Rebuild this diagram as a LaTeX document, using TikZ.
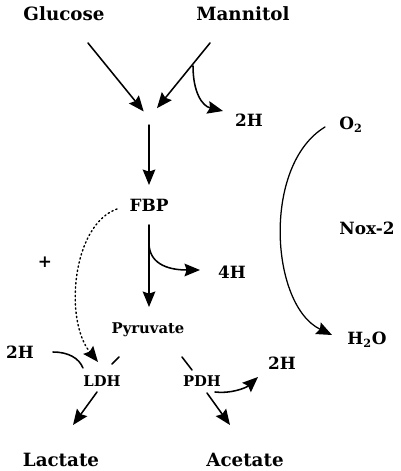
\documentclass[tikz,border=0pt]{standalone}
\usepackage{fontspec}
\setmainfont{DejaVu Serif}
\usetikzlibrary{arrows.meta}
\begin{document}
\begin{tikzpicture}[x=0.025cm, y=-0.025cm, line cap=round, line join=round, line width=1.1pt, >={Stealth[length=11pt, width=9pt, inset=1.5pt]}]
	\tikzset{big/.style={font=\fontsize{13}{15}\selectfont\bfseries, inner sep=1pt},
		mid/.style={font=\fontsize{12}{14}\selectfont\bfseries, inner sep=1pt},
		small/.style={font=\fontsize{10.5}{12}\selectfont\bfseries, inner sep=1pt}}
	\useasboundingbox (0,0) rectangle (400,471);
	\node[big] (glc) at (64,14) {Glucose};
	\node[big] (mtl) at (243,14) {Mannitol};
	\node[mid] (fbp) at (149,205) {FBP};
	\node[small] (pyr) at (148,330) {Pyruvate};
	\node[small] (ldh) at (102,381) {LDH};
	\node[small] (pdh) at (202,381) {PDH};
	\node[big] (lac) at (61,460) {Lactate};
	\node[big] (ace) at (245,460) {Acetate};
	\node[mid] (hmtl) at (249,120) {2H};
	\node[mid] (hfbp) at (232,272) {4H};
	\node[mid] (hldh) at (20,352) {2H};
	\node[mid] (hpdh) at (282,363) {2H};
	\node[mid] (o2) at (351,125) {O\textsubscript{2}};
	\node[mid] (h2o) at (367,340) {H\textsubscript{2}O};
	\node[mid] (nox) at (367,228) {Nox-2};
	\node[mid] (plus) at (45,262) {+};
	% free ends of the connectors
	\coordinate (hub) at (149,118);
	\coordinate (glcout) at (88,43);
	\coordinate (mtlout) at (210,43);
	\coordinate (mtlbr) at (193,66);
	\coordinate (mtlh) at (223,111);
	\coordinate (fbpout) at (149,225);
	\coordinate (fbpbr) at (149,243);
	\coordinate (fbph) at (200,270);
	\coordinate (pyrin) at (149,307);
	\coordinate (fbpdot) at (117,209);
	\coordinate (ldhdot) at (98,362);
	\coordinate (hldhout) at (53,352);
	\coordinate (hldhin) at (83,368);
	\coordinate (pyrldh) at (119,357);
	\coordinate (ldhtop) at (112,364);
	\coordinate (ldhout) at (97,392);
	\coordinate (lacin) at (73,425);
	\coordinate (pyrpdh) at (182,357);
	\coordinate (pdhtop) at (192,370);
	\coordinate (pdhout) at (207,393);
	\coordinate (acein) at (230,425);
	\coordinate (pdhbr) at (215,392);
	\coordinate (pdhh) at (258,377);
	\coordinate (o2out) at (325,127);
	\coordinate (h2oin) at (332,335);
	% glycolysis
	\draw[->, shorten >=6pt] (glcout) -- (hub);
	\draw[->, shorten >=9pt] (mtlout) -- (hub);
	\draw[->] (mtlbr) .. controls (193,92) and (202,106) .. (mtlh);
	\draw[->, shorten <=5pt] (hub) -- (fbp.north |- 0,185);
	\draw[->] (fbpout) -- (pyrin);
	\draw[->] (fbpbr) .. controls (149,262) and (165,270) .. (fbph);
	\draw[->, dotted, line width=1pt] (fbpdot) .. controls (72,225) and (64,320) .. (ldhdot);
	% LDH and PDH
	\draw (hldhout) .. controls (68,352) and (79,358) .. (hldhin);
	\draw (pyrldh) -- (ldhtop);
	\draw[->] (ldhout) -- (lacin);
	\draw (pyrpdh) -- (pdhtop);
	\draw[->] (pdhout) -- (acein);
	\draw[->] (pdhbr) .. controls (230,394) and (246,388) .. (pdhh);
	% Nox-2
	\draw[->, line width=0.9pt] (o2out) .. controls (262,165) and (270,305) .. (h2oin);
\end{tikzpicture}
\end{document}
